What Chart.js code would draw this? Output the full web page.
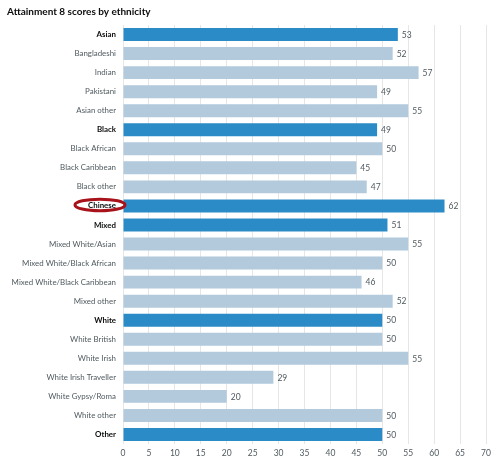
<!DOCTYPE html>
<html>
<head>
<meta charset="utf-8">
<script src="https://cdn.jsdelivr.net/npm/chart.js@4"></script>
<style>
  html, body { margin: 0; padding: 0; background: #fff; }
</style>
</head>
<body>
<canvas id="myChart" width="500" height="460"></canvas>
<script>
// DATA
const categories = [
  'Asian', 'Bangladeshi', 'Indian', 'Pakistani', 'Asian other',
  'Black', 'Black African', 'Black Caribbean', 'Black other',
  'Chinese',
  'Mixed', 'Mixed White/Asian', 'Mixed White/Black African', 'Mixed White/Black Caribbean', 'Mixed other',
  'White', 'White British', 'White Irish', 'White Irish Traveller', 'White Gypsy/Roma', 'White other',
  'Other'
];
const scores = [53, 52, 57, 49, 55, 49, 50, 45, 47, 62, 51, 55, 50, 46, 52, 50, 50, 55, 29, 20, 50, 50];
const groupHeaders = ['Asian', 'Black', 'Chinese', 'Mixed', 'White', 'Other'];
const highlighted = 'Chinese';
const xTicks = [0, 5, 10, 15, 20, 25, 30, 35, 40, 45, 50, 55, 60, 65, 70];

const FONT = 'Lato, "Noto Sans", sans-serif';
const LABEL_SIZE = 7.9;
const DARK = '#2b8bc6';
const LIGHT = '#b2cadb';

const isGroup = name => groupHeaders.includes(name);

// value labels at the end of each bar
const valueLabels = {
  id: 'valueLabels',
  afterDatasetsDraw(chart) {
    const ctx = chart.ctx;
    const meta = chart.getDatasetMeta(0);
    ctx.save();
    ctx.font = '8.5px ' + FONT;
    ctx.fillStyle = '#505a5f';
    ctx.textAlign = 'left';
    ctx.textBaseline = 'middle';
    meta.data.forEach((bar, i) => {
      ctx.fillText(String(scores[i]), bar.x + 4, bar.y + 0.5);
    });
    ctx.restore();
  }
};

// red ring round the highlighted label
const ringLabel = {
  id: 'ringLabel',
  afterDraw(chart) {
    const y = chart.scales.y;
    const idx = categories.indexOf(highlighted);
    const ctx = chart.ctx;
    ctx.save();
    ctx.font = 'bold ' + LABEL_SIZE + 'px ' + FONT;
    const w = ctx.measureText(highlighted).width;
    const cx = y.right - 9 - w / 2;
    const cy = y.getPixelForValue(idx) - 1;
    ctx.beginPath();
    ctx.ellipse(cx, cy, w / 2 + 11, 5.8, 0, 0, Math.PI * 2);
    ctx.lineWidth = 3;
    ctx.strokeStyle = '#a8131b';
    ctx.stroke();
    ctx.restore();
  }
};

const ctx = document.getElementById('myChart').getContext('2d');
const myChart = new Chart(ctx, {
  type: 'bar',
  data: {
    labels: categories,
    datasets: [{
      data: scores,
      backgroundColor: categories.map(c => isGroup(c) ? DARK : LIGHT),
      borderWidth: 0,
      categoryPercentage: 0.68,
      barPercentage: 1
    }]
  },
  options: {
    indexAxis: 'y',
    responsive: false,
    animation: false,
    devicePixelRatio: 1,
    layout: { padding: { left: 7, right: 14, top: 0, bottom: 0 } },
    scales: {
      x: {
        min: 0,
        max: 70,
        afterBuildTicks: scale => { scale.ticks = xTicks.map(v => ({ value: v })); },
        afterFit: scale => { scale.height = 16; },
        grid: { color: '#e6e6e6', drawTicks: false },
        border: { display: false },
        ticks: {
          padding: 4,
          color: '#505a5f',
          font: { family: FONT, size: 8.5 }
        }
      },
      y: {
        afterFit: scale => { scale.width = 116; },
        grid: { display: false, drawTicks: false },
        border: { display: false },
        ticks: {
          padding: 7,
          autoSkip: false,
          color: c => isGroup(categories[c.index]) ? '#0b0c0c' : '#505a5f',
          font: c => ({
            family: FONT,
            size: LABEL_SIZE,
            weight: isGroup(categories[c.index]) ? 'bold' : 'normal'
          })
        }
      }
    },
    plugins: {
      legend: { display: false },
      tooltip: { enabled: false },
      title: {
        display: true,
        text: 'Attainment 8 scores by ethnicity',
        align: 'start',
        color: '#0b0c0c',
        font: { family: FONT, size: 10, weight: 'bold' },
        padding: { top: 6, bottom: 7 }
      }
    }
  },
  plugins: [valueLabels, ringLabel]
});
</script>
</body>
</html>
